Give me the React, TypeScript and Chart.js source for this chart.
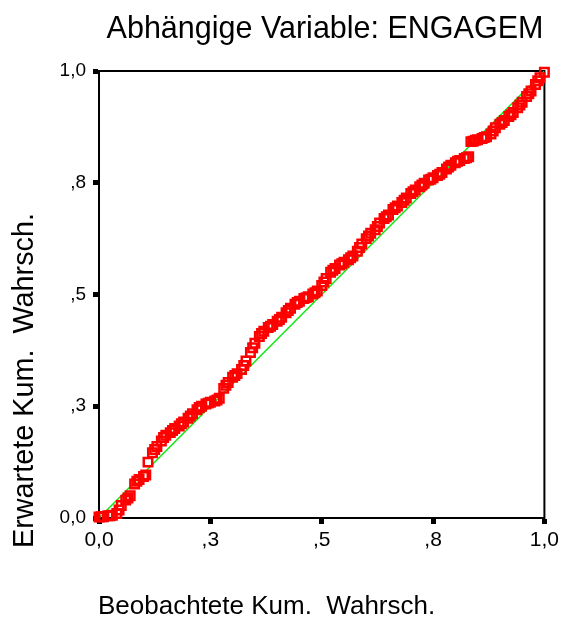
import { useEffect, useRef } from "react";
import { Chart, registerables } from "chart.js";

Chart.register(...registerables);

const FONT = '"Liberation Sans", Arial, sans-serif';

const titleText = "Abhängige Variable: ENGAGEM";
const xTitle = "Beobachtete Kum.  Wahrsch.";
const yTitle = "Erwartete Kum.  Wahrsch.";

const tickValues = [0, 0.25, 0.5, 0.75, 1];
const tickLabels = ["0,0", ",3", ",5", ",8", "1,0"];

// Observed cumulative probability (x)
const observed = [
  0.000, 0.005, 0.010, 0.020, 0.025, 0.030, 0.040, 0.045, 0.050,
  0.060, 0.065, 0.070, 0.080, 0.085, 0.090, 0.100, 0.105, 0.110,
  0.120, 0.125, 0.130, 0.140, 0.145, 0.150, 0.160, 0.165, 0.170,
  0.180, 0.185, 0.190, 0.200, 0.205, 0.210, 0.220, 0.225, 0.230,
  0.240, 0.245, 0.250, 0.260, 0.265, 0.270, 0.280, 0.285, 0.290,
  0.300, 0.305, 0.310, 0.320, 0.325, 0.330, 0.340, 0.345, 0.350,
  0.360, 0.365, 0.370, 0.380, 0.385, 0.390, 0.400, 0.405, 0.410,
  0.420, 0.425, 0.430, 0.440, 0.445, 0.450, 0.460, 0.465, 0.470,
  0.480, 0.485, 0.490, 0.500, 0.505, 0.510, 0.520, 0.525, 0.530,
  0.540, 0.545, 0.550, 0.560, 0.565, 0.570, 0.580, 0.585, 0.590,
  0.600, 0.605, 0.610, 0.620, 0.625, 0.630, 0.640, 0.645, 0.650,
  0.660, 0.665, 0.670, 0.680, 0.685, 0.690, 0.700, 0.705, 0.710,
  0.720, 0.725, 0.730, 0.740, 0.745, 0.750, 0.760, 0.765, 0.770,
  0.780, 0.785, 0.790, 0.800, 0.805, 0.810, 0.820, 0.825, 0.830,
  0.835, 0.840, 0.845, 0.850, 0.860, 0.865, 0.870, 0.880, 0.885,
  0.890, 0.900, 0.905, 0.910, 0.920, 0.925, 0.930, 0.940, 0.945,
  0.950, 0.960, 0.965, 0.970, 0.980, 0.985, 0.990, 1.000,
];

// Expected cumulative probability (y)
const expected = [
  0.002, 0.003, 0.003, 0.005, 0.005, 0.006, 0.010, 0.018, 0.028,
  0.040, 0.045, 0.050, 0.076, 0.082, 0.086, 0.093, 0.096, 0.125,
  0.146, 0.153, 0.160, 0.172, 0.180, 0.185, 0.191, 0.196, 0.200,
  0.206, 0.211, 0.215, 0.223, 0.228, 0.233, 0.242, 0.247, 0.250,
  0.255, 0.257, 0.259, 0.262, 0.264, 0.268, 0.290, 0.297, 0.303,
  0.315, 0.319, 0.323, 0.332, 0.341, 0.351, 0.370, 0.381, 0.391,
  0.406, 0.413, 0.418, 0.426, 0.429, 0.433, 0.440, 0.444, 0.449,
  0.459, 0.464, 0.469, 0.478, 0.482, 0.485, 0.491, 0.493, 0.495,
  0.501, 0.504, 0.508, 0.520, 0.528, 0.536, 0.550, 0.554, 0.558,
  0.566, 0.569, 0.572, 0.578, 0.582, 0.586, 0.597, 0.605, 0.613,
  0.625, 0.631, 0.637, 0.645, 0.652, 0.660, 0.670, 0.674, 0.678,
  0.690, 0.694, 0.698, 0.706, 0.711, 0.716, 0.726, 0.730, 0.734,
  0.741, 0.745, 0.749, 0.756, 0.758, 0.761, 0.766, 0.769, 0.773,
  0.781, 0.785, 0.789, 0.795, 0.798, 0.800, 0.804, 0.806, 0.808,
  0.842, 0.843, 0.845, 0.846, 0.849, 0.851, 0.853, 0.859, 0.866,
  0.873, 0.881, 0.885, 0.889, 0.898, 0.902, 0.907, 0.918, 0.924,
  0.930, 0.943, 0.949, 0.955, 0.970, 0.978, 0.985, 0.997,
];

const diagonalX = [0, 1];
const diagonalY = [0, 1];

const labelsPlugin = {
  id: "ppLabels",
  beforeDatasetsDraw(chart: any) {
    const { ctx, chartArea } = chart;
    ctx.save();
    ctx.strokeStyle = "#000";
    ctx.lineWidth = 2;
    ctx.strokeRect(
      chartArea.left,
      chartArea.top,
      chartArea.right - chartArea.left,
      chartArea.bottom - chartArea.top
    );
    ctx.restore();
  },
  afterDraw(chart: any) {
    const { ctx } = chart;
    ctx.save();
    ctx.fillStyle = "#000";
    ctx.textBaseline = "alphabetic";
    ctx.font = `30.5px ${FONT}`;
    ctx.textAlign = "center";
    ctx.fillText(titleText, 325, 38);
    ctx.font = `26px ${FONT}`;
    ctx.textAlign = "left";
    ctx.fillText(xTitle, 98, 614);
    ctx.translate(33, 548);
    ctx.rotate(-Math.PI / 2);
    ctx.font = `28.8px ${FONT}`;
    ctx.fillText(yTitle, 0, 0);
    ctx.restore();
  },
};

const tickCb = (v: any) => {
  const i = tickValues.indexOf(Number(v));
  return i >= 0 ? tickLabels[i] : "";
};

export default function App() {
  const ref = useRef<HTMLCanvasElement | null>(null);
  useEffect(() => {
    if (!ref.current) return;
    const points = observed.map((x, i) => ({ x, y: expected[i] }));
    const diag = diagonalX.map((x, i) => ({ x, y: diagonalY[i] }));
    const chart = new Chart(ref.current, {
      type: "scatter",
      data: {
        datasets: [
          {
            type: "scatter",
            data: points,
            pointStyle: "rect",
            pointRadius: 6,
            pointBorderWidth: 2.5,
            borderColor: "#ff0000",
            backgroundColor: "rgba(0,0,0,0)",
            order: 1,
            clip: 6,
          } as any,
          {
            type: "line",
            data: diag,
            borderColor: "#10e810",
            borderWidth: 1.5,
            pointRadius: 0,
            fill: false,
            order: 2,
          } as any,
        ],
      },
      plugins: [labelsPlugin],
      options: {
        animation: false,
        responsive: false,
        devicePixelRatio: 1,
        layout: {
          autoPadding: false,
          padding: { top: 71, right: 17, left: 0, bottom: 0 },
        },
        plugins: {
          legend: { display: false },
          tooltip: { enabled: false },
          title: { display: false },
        },
        scales: {
          x: {
            type: "linear",
            position: "bottom",
            min: 0,
            max: 1,
            afterFit: (s: any) => {
              s.height = 99;
            },
            ticks: {
              stepSize: 0.25,
              autoSkip: false,
              maxRotation: 0,
              padding: 4,
              color: "#000",
              font: { size: 21, family: FONT },
              callback: tickCb,
            },
            grid: {
              drawOnChartArea: false,
              drawTicks: true,
              tickLength: 6,
              tickWidth: 5,
              tickColor: "#000",
            },
            border: { display: true, color: "#000", width: 2 },
          },
          y: {
            type: "linear",
            position: "left",
            min: 0,
            max: 1,
            afterFit: (s: any) => {
              s.width = 99;
            },
            ticks: {
              stepSize: 0.25,
              autoSkip: false,
              padding: 7,
              color: "#000",
              font: { size: 19, family: FONT },
              callback: tickCb,
            },
            grid: {
              drawOnChartArea: false,
              drawTicks: true,
              tickLength: 6,
              tickWidth: 5,
              tickColor: "#000",
            },
            border: { display: true, color: "#000", width: 2 },
          },
        },
      } as any,
    });
    return () => chart.destroy();
  }, []);
  return (
    <div style={{ position: "absolute", left: 0, top: 0, width: 563, height: 617 }}>
      <canvas ref={ref} width={563} height={617} />
    </div>
  );
}
